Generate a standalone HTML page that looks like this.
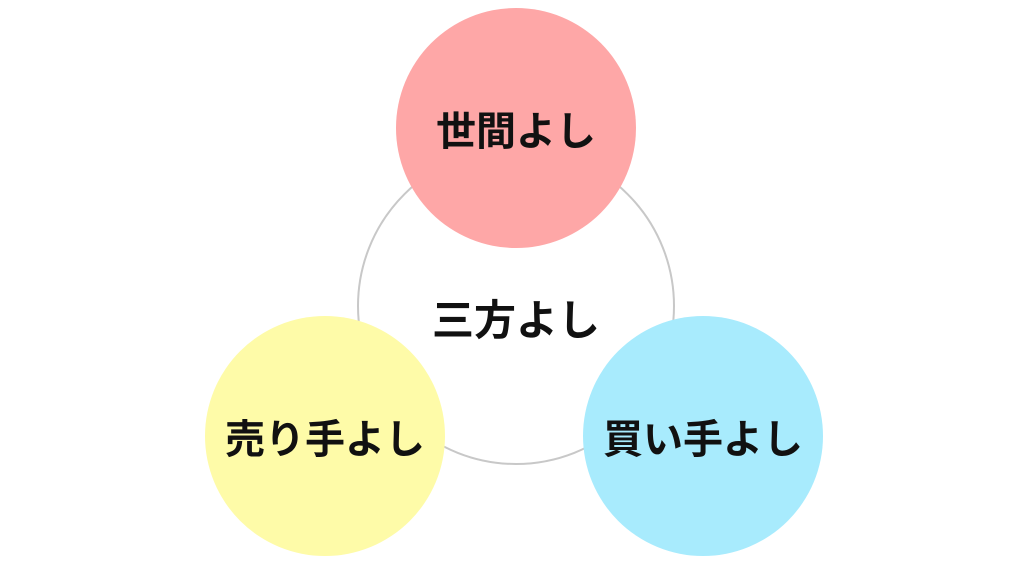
<!DOCTYPE html>
<html><head><meta charset="utf-8"><style>
html,body{margin:0;padding:0;background:#fff;}
body{width:1024px;height:576px;position:relative;overflow:hidden;font-family:"Liberation Sans","Noto Sans CJK JP",sans-serif;}
.c{position:absolute;border-radius:50%;display:flex;align-items:center;justify-content:center;font-weight:bold;color:#111;font-size:40px;}
</style></head><body>
<div class="c" style="left:357px;top:147px;width:314px;height:314px;border:2px solid #c8c8c8;font-size:42px;padding-top:22px;box-sizing:content-box;height:292px;"><span>三方よし</span></div>
<div class="c" style="left:396px;top:8px;width:240px;height:240px;background:#fea7a7;">世間よし</div>
<div class="c" style="left:205px;top:316px;width:240px;height:240px;background:#fefba8;">売り手よし</div>
<div class="c" style="left:583px;top:316px;width:240px;height:240px;background:#a8ebfd;">買い手よし</div>
</body></html>
